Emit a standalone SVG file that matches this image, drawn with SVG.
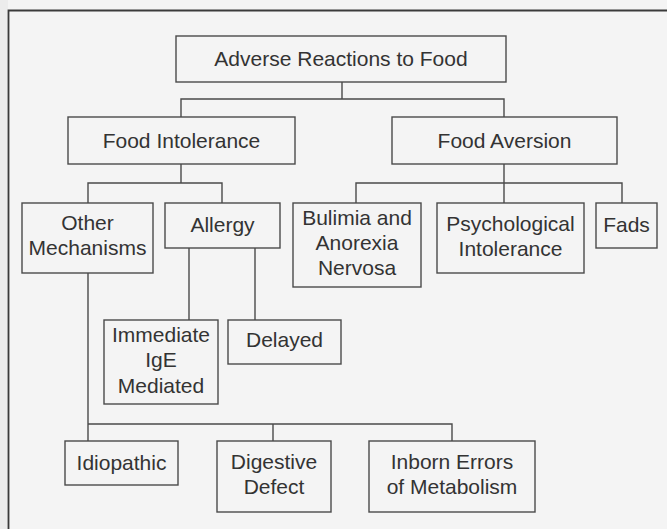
<svg xmlns="http://www.w3.org/2000/svg" width="667" height="529" viewBox="0 0 667 529">
<style>
.bg{fill:#f4f4f4}
.frame{fill:none;stroke:#3a3a3a;stroke-width:1.8}
.box{fill:#f4f4f4;stroke:#4a4a4a;stroke-width:1.4}
.lbl{font-family:"Liberation Sans",Arial,Helvetica,sans-serif;font-size:21px;fill:#333;text-anchor:middle}
.conn{fill:none;stroke:#4a4a4a;stroke-width:1.4}
</style>
<rect class="bg" x="0" y="0" width="667" height="529"/>
<rect x="0" y="0" width="8" height="529" fill="#ececec"/>
<path class="frame" d="M8.5,529 V10.5 H667"/>
<g id="connectors" class="conn">
<path d="M342,82 V99 M181,117 V99 H504 V117"/>
<path d="M181,164 V183 M88,203 V183 H222 V203"/>
<path d="M504,164 V203 M356,203 V183 H622 V203"/>
<path d="M189,248 V320 M255,248 V320"/>
<path d="M88,273 V441 M88,424 H452 V441 M273,424 V441"/>
</g>
<g id="adverse"><rect class="box" x="176" y="36" width="330" height="46"/><text class="lbl" x="341" y="66">Adverse Reactions to Food</text></g>
<g id="food-intolerance"><rect class="box" x="68" y="117" width="227" height="47"/><text class="lbl" x="181.5" y="148">Food Intolerance</text></g>
<g id="food-aversion"><rect class="box" x="392" y="117" width="225" height="47"/><text class="lbl" x="504.5" y="148">Food Aversion</text></g>
<g id="other-mechanisms"><rect class="box" x="22" y="203" width="131" height="70"/><text class="lbl" x="87.5" y="230">Other</text><text class="lbl" x="87.5" y="255">Mechanisms</text></g>
<g id="allergy"><rect class="box" x="165" y="203" width="115" height="45"/><text class="lbl" x="222.5" y="232">Allergy</text></g>
<g id="bulimia"><rect class="box" x="293" y="203" width="128" height="84"/><text class="lbl" x="357" y="225">Bulimia and</text><text class="lbl" x="357" y="250">Anorexia</text><text class="lbl" x="357" y="275">Nervosa</text></g>
<g id="psychological"><rect class="box" x="437" y="203" width="147" height="70"/><text class="lbl" x="510.5" y="231">Psychological</text><text class="lbl" x="510.5" y="256">Intolerance</text></g>
<g id="fads"><rect class="box" x="596" y="203" width="61" height="45"/><text class="lbl" x="626.5" y="232">Fads</text></g>
<g id="immediate"><rect class="box" x="104" y="320" width="114" height="84"/><text class="lbl" x="161" y="342">Immediate</text><text class="lbl" x="161" y="367">IgE</text><text class="lbl" x="161" y="393">Mediated</text></g>
<g id="delayed"><rect class="box" x="228" y="320" width="113" height="44"/><text class="lbl" x="284.5" y="347">Delayed</text></g>
<g id="idiopathic"><rect class="box" x="65" y="441" width="113" height="44"/><text class="lbl" x="121.5" y="470">Idiopathic</text></g>
<g id="digestive"><rect class="box" x="217" y="441" width="114" height="71"/><text class="lbl" x="274" y="469">Digestive</text><text class="lbl" x="274" y="494">Defect</text></g>
<g id="inborn"><rect class="box" x="369" y="441" width="166" height="71"/><text class="lbl" x="452" y="469">Inborn Errors</text><text class="lbl" x="452" y="494">of Metabolism</text></g>
</svg>
